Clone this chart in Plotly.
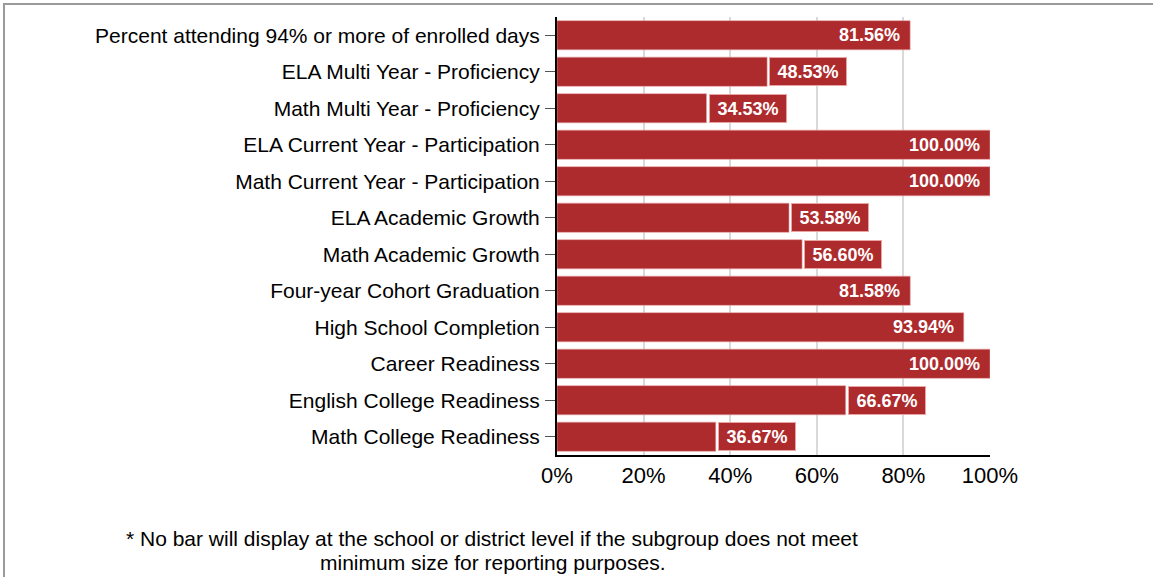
import plotly.graph_objects as go

categories = [
    "Percent attending 94% or more of enrolled days",
    "ELA Multi Year - Proficiency",
    "Math Multi Year - Proficiency",
    "ELA Current Year - Participation",
    "Math Current Year - Participation",
    "ELA Academic Growth",
    "Math Academic Growth",
    "Four-year Cohort Graduation",
    "High School Completion",
    "Career Readiness",
    "English College Readiness",
    "Math College Readiness",
]
values = [81.56, 48.53, 34.53, 100.00, 100.00, 53.58, 56.60, 81.58, 93.94, 100.00, 66.67, 36.67]
x_ticks = [0, 20, 40, 60, 80, 100]
x_tick_labels = ["0%", "20%", "40%", "60%", "80%", "100%"]
footnote_lines = [
    "* No bar will display at the school or district level if the subgroup does not meet",
    "minimum size for reporting purposes.",
]

BAR = "#AD2A2D"
PINK = "#E8A3A3"
FONT = "Arial, Liberation Sans"
W, H = 1153, 577
L, R, T, B = 557, 163, 17, 122
pw, ph = W - L - R, H - T - B

fig = go.Figure(go.Bar(
    x=values, y=categories, orientation="h",
    marker=dict(color=BAR, line=dict(color=PINK, width=0.6)),
    width=0.8, hoverinfo="skip",
))

annotations = []
for c, v in zip(categories, values):
    inside = v > 75
    if inside:
        annotations.append(dict(
            x=v, y=c, xref="x", yref="y", text=f"<b>{v:.2f}%</b>",
            showarrow=False, xanchor="right", xshift=-8,
            font=dict(family=FONT, size=18, color="white"),
        ))
    else:
        annotations.append(dict(
            x=v, y=c, xref="x", yref="y", text=f"<b>{v:.2f}%</b>",
            showarrow=False, xanchor="left", xshift=2,
            bgcolor=BAR, bordercolor=PINK, borderwidth=1, borderpad=3,
            width=70, height=21,
            font=dict(family=FONT, size=18, color="white"),
        ))

for line, py in zip(footnote_lines, [538, 562]):
    annotations.append(dict(
        x=(492 - L) / pw, y=(H - B - py) / ph, xref="paper", yref="paper",
        text=line, showarrow=False, align="center",
        xanchor="center", yanchor="middle",
        font=dict(family=FONT, size=21, color="black"),
    ))

fig.update_layout(
    width=W, height=H,
    margin=dict(l=L, r=R, t=T, b=B, pad=0),
    paper_bgcolor="white", plot_bgcolor="white",
    showlegend=False,
    font=dict(family=FONT, color="black"),
    annotations=annotations,
    shapes=[dict(
        type="rect", xref="paper", yref="paper",
        x0=(4 - L) / pw, x1=(1165 - L) / pw,
        y0=(H - B - 590) / ph, y1=(H - B - 4) / ph,
        line=dict(color="#9a9a9a", width=2), layer="below",
    )],
    bargap=0.2,
)
fig.update_xaxes(
    range=[0, 100], tickvals=x_ticks, ticktext=x_tick_labels,
    showgrid=True, gridcolor="#d9d9d9", gridwidth=2,
    showline=True, linecolor="black", linewidth=2,
    ticks="", tickfont=dict(size=22, color="black"),
    zeroline=False, fixedrange=True,
)
fig.update_yaxes(
    autorange="reversed",
    showline=True, linecolor="black", linewidth=2,
    ticks="outside", ticklen=10, tickcolor="#555555", tickwidth=1,
    tickfont=dict(size=21, color="black"), ticklabelstandoff=1,
    showgrid=False, fixedrange=True,
)

fig.write_html("out.html", config={"displayModeBar": False},
               post_script="document.body.style.margin='0';document.body.style.overflow='hidden';")
